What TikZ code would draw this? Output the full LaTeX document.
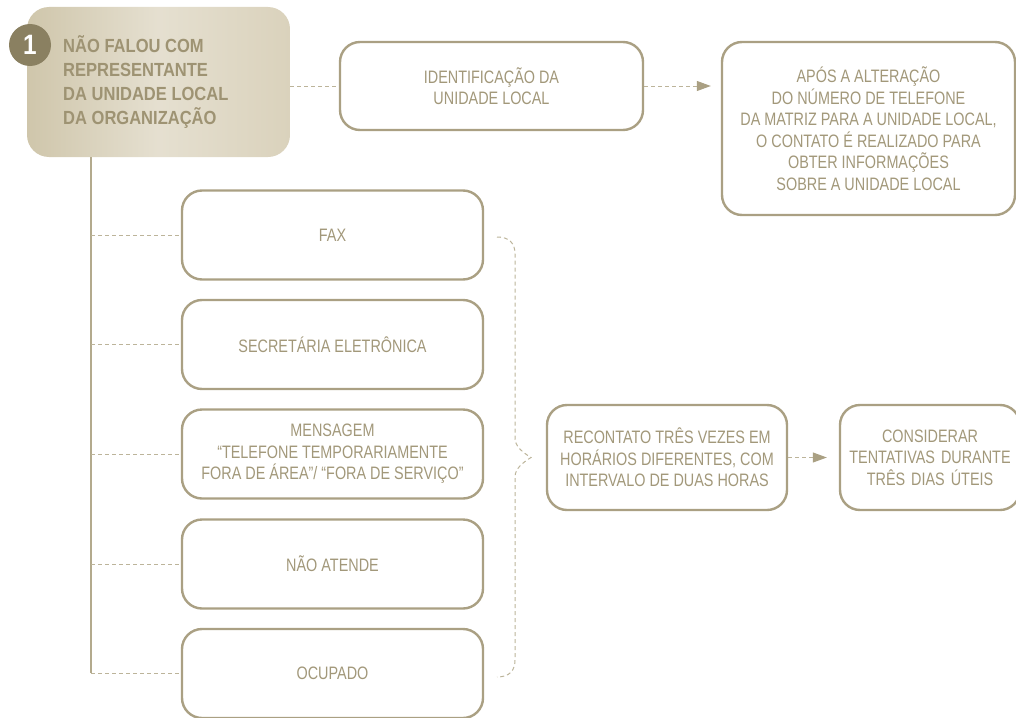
\documentclass[tikz,border=0pt]{standalone}
\usepackage{fontspec}
\setmainfont{Liberation Sans}[FakeStretch=0.8]
\newfontfamily\mainbold{Liberation Sans}[FakeStretch=0.87]
\usetikzlibrary{arrows.meta,calc}
\definecolor{brd}{HTML}{AAA083}
\definecolor{txt}{HTML}{A2987A}
\definecolor{dsh}{HTML}{BCB49A}
\definecolor{vln}{HTML}{B3AA8D}
\definecolor{mainfill}{HTML}{DAD2BC}
\definecolor{mainedge}{HTML}{CFC6AB}
\definecolor{maintxt}{HTML}{9E9373}
\definecolor{numfill}{HTML}{8A8061}
\begin{document}
\begin{tikzpicture}[x=1pt,y=-1pt,
 box/.style={draw=brd, line width=2.4pt, rounded corners=20pt, fill=white, align=center, text=txt, font=\fontsize{18}{21.5}\selectfont, inner sep=0pt},
 leftbox/.style={box, minimum width=301pt, minimum height=89pt},
 dashln/.style={draw=dsh, line width=1pt, dash pattern=on 4pt off 3pt},
 arr/.style={dashln, -{Triangle[length=14pt,width=10pt,fill=brd,color=brd]}}]
\useasboundingbox (0,0) rectangle (1016,717);
% main box
\node[rounded corners=22pt, left color=mainedge, right color=mainfill, middle color=mainfill!70!white, minimum width=263pt, minimum height=150pt, inner sep=0pt] (main) at (158.5,82) {};
\node[anchor=north west, align=left, font=\mainbold\bfseries\fontsize{19}{24}\selectfont, text=maintxt, inner sep=0pt] (maintext) at (63,35.5) {NÃO FALOU COM\\REPRESENTANTE\\DA UNIDADE LOCAL\\DA ORGANIZAÇÃO};
\node[circle, fill=numfill, minimum size=42pt, text=white, font=\mainbold\bfseries\fontsize{28}{28}\selectfont, inner sep=0pt] (num) at (30,45) {1};
% top row
\node[box, minimum width=303pt, minimum height=88pt] (ident) at (491.5,86) {IDENTIFICAÇÃO DA\\UNIDADE LOCAL};
\node[box, minimum width=293pt, minimum height=173pt] (apos) at (868.5,128.5) {APÓS A ALTERAÇÃO\\DO NÚMERO DE TELEFONE\\DA MATRIZ PARA A UNIDADE LOCAL,\\O CONTATO É REALIZADO PARA\\OBTER INFORMAÇÕES\\SOBRE A UNIDADE LOCAL};
% left column
\node[leftbox] (fax) at (332.5,235) {FAX};
\node[leftbox] (sec) at (332.5,344.5) {SECRETÁRIA ELETRÔNICA};
\node[leftbox] (men) at (332.5,454) {MENSAGEM\\“TELEFONE TEMPORARIAMENTE\\FORA DE ÁREA”/ “FORA DE SERVIÇO”};
\node[leftbox] (nao) at (332.5,564) {NÃO ATENDE};
\node[leftbox] (ocu) at (332.5,673.5) {OCUPADO};
% right middle
\node[box, minimum width=240pt, minimum height=105pt] (rec) at (667,457.5) {RECONTATO TRÊS VEZES EM\\HORÁRIOS DIFERENTES, COM\\INTERVALO DE DUAS HORAS};
\node[box, minimum width=180pt, minimum height=105pt, text width=170pt] (cons) at (930,457.5) {CONSIDERAR\\TENTATIVAS DURANTE\\TRÊS DIAS ÚTEIS};
% connectors
\draw[dashln] (ident.west -| main.east) -- (ident.west);
\draw[arr, shorten >=10pt] (ident.east) -- (apos.west |- ident.east);
\coordinate (vbot) at (91,673);
\draw[vln, line width=1.3pt] (main.south -| vbot) -- (vbot);
\foreach \b in {fax,sec,men,nao,ocu} {
  \draw[dashln] (\b.west -| vbot) -- (\b.west);
}
% brace
\coordinate (brtop) at (497,237);
\coordinate (brtip) at (531,457.5);
\coordinate (brbot) at (497,677);
\draw[dashln] (brtop) .. controls (509,237) and (515,243) .. (515,254) -- (515,438) .. controls (515,446) and (522,452) .. (brtip)
  .. controls (522,463) and (515,469) .. (515,477) -- (515,660) .. controls (515,671) and (509,677) .. (brbot);
\draw[arr, shorten >=12pt] (rec.east) -- (cons.west);
\end{tikzpicture}
\end{document}
